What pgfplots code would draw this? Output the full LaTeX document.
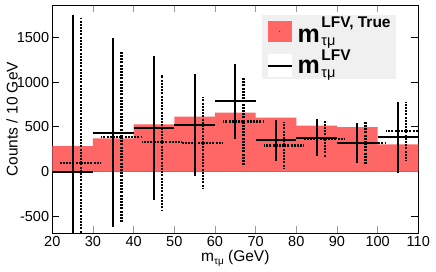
\documentclass[border=0pt]{standalone}
\usepackage{fontspec}
\setmainfont{Liberation Sans}
\usepackage{pgfplots}
\pgfplotsset{compat=1.18}
\usepackage{pgfplotstable}
\definecolor{histred}{RGB}{255,102,102}
\definecolor{leggray}{RGB}{240,240,240}

\pgfplotstableread{
x y
20 0
20 284
30 370
40 527
50 612
60 657
70 601
80 511
90 495
100 303
110 303
110 0
}\hist

\pgfplotstableread{
x y ex ey
25 -10 5 1760
35 433 5 1056
45 489 5 805
55 519 5 571
65 787 5 420
75 348 5 228
85 377 5 207
95 317 5 221
105 382 5 395
}\solid

\pgfplotstableread{
x y ex ey
27 90 5 1622
37 385 5 960
47 325 5 754
57 318 5 518
67 558 5 490
77 290 5 265
87 366 5 212
97 318 5 233
107 448 5 334
}\dotted

\newcommand{\legm}[2]{{\fontsize{25}{25}\selectfont\bfseries m}\hspace{1.5pt}\rlap{\raisebox{-3.5pt}{\fontsize{14.5}{14.5}\selectfont τμ}}\raisebox{#2}{\fontsize{15.5}{15.5}\selectfont\bfseries #1}}

\begin{document}
\begin{tikzpicture}
\begin{axis}[
  scale only axis, width=366pt, height=228pt,
  xmin=20, xmax=110, ymin=-692, ymax=1858,
  xtick={20,30,...,110}, ytick={-500,0,500,1000,1500},
  minor tick num=0,
  tick align=inside, tick pos=both,
  major tick length=7pt,
  axis line style={line width=0.8pt},
  xtick style={color=gray!80, line width=0.6pt},
  ytick style={color=black, line width=0.6pt},
  /pgf/number format/assume math mode=true,
  /pgf/number format/1000 sep={},
  ticklabel style={font=\fontsize{14.5}{17}\selectfont},
  xticklabel style={anchor=base, yshift=-13.7pt},
  yticklabel style={anchor=east, inner sep=0pt, xshift=-3pt},
  xlabel={m\raisebox{-3pt}{\fontsize{10}{10}\selectfont τμ} (GeV)},
  ylabel={Counts / 10 GeV},
  label style={font=\fontsize{15.5}{18}\selectfont},
  xlabel style={at={(axis description cs:0.5,0)}, anchor=base, yshift=-28.7pt},
  ylabel style={at={(axis description cs:-0.11,0.5)}, anchor=center},
  legend style={at={(axis description cs:0.572,0.957)}, anchor=north west,
    fill=leggray, draw=none, inner xsep=5pt, inner ysep=2pt,
    nodes={inner sep=0pt}, cells={anchor=base west}, row sep=6pt, column sep=5pt},
]
\addplot[fill=histred, draw=none, const plot mark left,
  legend image code/.code={
    \fill[histred] (0pt,0pt) rectangle (24pt,21.6pt);
    \fill[black] (12pt,10.8pt) circle (0.5pt);}]
  table[x=x,y=y] {\hist};
\addlegendentry{\legm{LFV, True}{14.5pt}}

\addplot[gray, line width=0.6pt, forget plot] coordinates {(20,0) (110,0)};

\addplot[draw=none, mark=none, forget plot,
  error bars/.cd, x dir=both, x explicit, y dir=both, y explicit,
  error mark=none,
  error bar style={draw=black, line width=2.2pt, line cap=butt, dash pattern=on 2pt off 1.2pt}]
  table[x=x, y=y, x error=ex, y error=ey] {\dotted};

\addplot[draw=none, mark=none,
  legend image code/.code={
    \fill[white] (0pt,-3.4pt) rectangle (24pt,20pt);
    \draw[black, line width=1.8pt] (0pt,8.3pt) -- (24pt,8.3pt);},
  error bars/.cd, x dir=both, x explicit, y dir=both, y explicit,
  error mark=none,
  error bar style={draw=black, solid, line width=1.8pt}]
  table[x=x, y=y, x error=ex, y error=ey] {\solid};
\addlegendentry{\legm{LFV}{13.3pt}}
\end{axis}
\pgfresetboundingbox
\path[use as bounding box] ([xshift=-52.3pt,yshift=-38.7pt]current axis.south west) rectangle ([xshift=17.7pt,yshift=5.3pt]current axis.north east);
\end{tikzpicture}
\end{document}
